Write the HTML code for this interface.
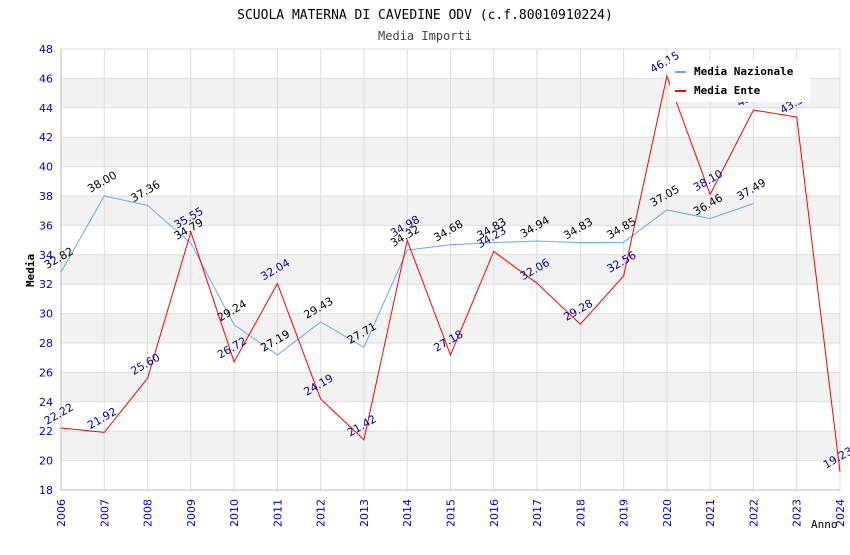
<!DOCTYPE html>
<html><head><meta charset="utf-8"><style>
body{margin:0;background:#fff}
svg{font-family:"DejaVu Sans Mono","Liberation Mono",monospace}
</style></head><body>
<svg id="c" width="850" height="550"></svg>
<script>
const years=[2006,2007,2008,2009,2010,2011,2012,2013,2014,2015,2016,2017,2018,2019,2020,2021,2022,2023,2024];
const naz=[32.82,38.00,37.36,34.79,29.24,27.19,29.43,27.71,34.32,34.68,34.83,34.94,34.83,34.85,37.05,36.46,37.49,null,null];
const ente=[22.22,21.92,25.60,35.55,26.72,32.04,24.19,21.42,34.98,27.18,34.23,32.06,29.28,32.56,46.15,38.10,43.85,43.37,19.23];
const yTicks=[18,20,22,24,26,28,30,32,34,36,38,40,42,44,46,48];
const NS="http://www.w3.org/2000/svg",svg=document.getElementById('c');
const X0=61,X1=840,Y0=490,Y1=49,ymin=18,ymax=48;
const xs=i=>X0+(X1-X0)*i/(years.length-1);
const ys=v=>Y0-(v-ymin)/(ymax-ymin)*(Y0-Y1);
function el(t,a,p){const e=document.createElementNS(NS,t);for(const k in a)e.setAttribute(k,a[k]);(p||svg).appendChild(e);return e;}
function tx(x,y,s,a){const e=el('text',Object.assign({x:x,y:y},a));e.textContent=s;return e;}
for(let i=0;i<yTicks.length-1;i++){
 if(yTicks[i]%4===0){const r=el('rect',{x:X0,y:ys(yTicks[i+1]),width:X1-X0,height:ys(yTicks[i])-ys(yTicks[i+1]),fill:'#f2f2f2'});
 
 }
}
yTicks.forEach(v=>{
 const l=el('line',{x1:X0,x2:X1,y1:ys(v),y2:ys(v),stroke:'#ddd'});
 
 
 const t=tx(X0-8,ys(v)+4,v,{'text-anchor':'end','font-size':11,fill:'#0000cc','font-family':'DejaVu Sans, sans-serif'});
 
 
});
years.forEach((y,i)=>{
 const l=el('line',{x1:xs(i),x2:xs(i),y1:Y1,y2:Y0,stroke:'#ddd'});
 
 
 const t=tx(0,0,y,{transform:`translate(${xs(i)+4},${Y0+37}) rotate(-90)`,'font-size':11,fill:'#0000cc','font-family':'DejaVu Sans, sans-serif'});
 
 
});
el('line',{x1:X0,x2:X0,y1:Y1,y2:Y0,stroke:'#bbb'});
el('line',{x1:X0,x2:X1,y1:Y0,y2:Y0,stroke:'#bbb'});
function series(vals,col,lab,name){
 let d='';vals.forEach((v,i)=>{if(v!=null)d+=(d?'L':'M')+xs(i)+','+ys(v);});
 const p=el('path',{d:d,fill:'none',stroke:col,'stroke-width':1});
 
 
 vals.forEach((v,i)=>{if(v==null)return;
  const t=tx(0,0,v.toFixed(2),{transform:`translate(${xs(i)-14},${ys(v)-3}) rotate(-30)`,'font-size':11,fill:lab,'font-family':'DejaVu Sans, sans-serif'});
  
  
 });
}
series(naz,'#66aaee','#000','nazionale');
series(ente,'#ff0000','#000099','ente');
const g=el('g',{});


el('rect',{x:670,y:60,width:140,height:42,fill:'#fff'},g);
el('line',{x1:675,x2:686,y1:72,y2:72,stroke:'#66aaee','stroke-width':2},g);
el('line',{x1:675,x2:686,y1:91,y2:91,stroke:'#ff0000','stroke-width':2},g);
tx(694,75,'Media Nazionale',{'font-size':11,'font-weight':'bold'},g);
tx(694,94,'Media Ente',{'font-size':11,'font-weight':'bold'},g);
const t1=tx(425,19,'SCUOLA MATERNA DI CAVEDINE ODV (c.f.80010910224)',{'text-anchor':'middle','font-size':13});

const t2=tx(425,40,'Media Importi',{'text-anchor':'middle','font-size':12,fill:'#444'});

const t3=tx(0,0,'Media',{transform:'translate(34,287) rotate(-90)','font-size':11,'font-weight':'bold'});

const t4=tx(811,528,'Anno',{'font-size':11});

</script>
</body></html>
